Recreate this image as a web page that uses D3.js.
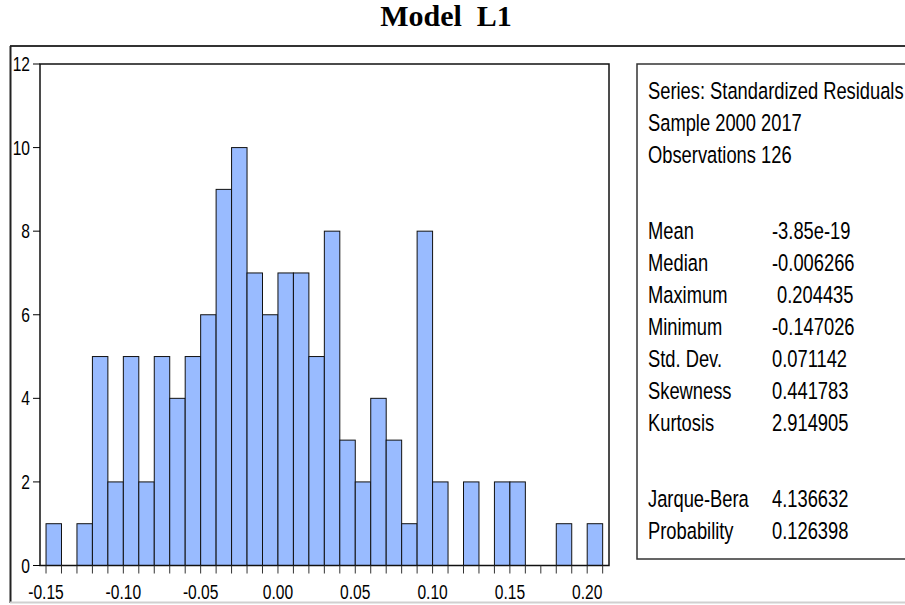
<!DOCTYPE html>
<html>
<head>
<meta charset="utf-8">
<script src="https://cdn.jsdelivr.net/npm/d3@7"></script>
<style>
  body { margin: 0; background: #fff; }
  text { font-family: "Liberation Sans", Arial, sans-serif; fill: #000; }
</style>
</head>
<body>
<svg width="905" height="605"></svg>
<script>
// histogram of residuals, bin width 0.01
const binStarts = [-0.15, -0.14, -0.13, -0.12, -0.11, -0.10, -0.09, -0.08, -0.07, -0.06,
                   -0.05, -0.04, -0.03, -0.02, -0.01, 0.00, 0.01, 0.02, 0.03, 0.04,
                   0.05, 0.06, 0.07, 0.08, 0.09, 0.10, 0.11, 0.12, 0.13, 0.14,
                   0.15, 0.16, 0.17, 0.18, 0.19, 0.20];
const counts = [1, 0, 1, 5, 2, 5, 2, 5, 4, 5,
                6, 9, 10, 7, 6, 7, 7, 5, 8, 3,
                2, 4, 3, 1, 8, 2, 0, 2, 0, 2,
                2, 0, 0, 1, 0, 1];
const binWidth = 0.01;

const yTicks = [0, 2, 4, 6, 8, 10, 12];
const xLabels = [-0.15, -0.10, -0.05, 0.00, 0.05, 0.10, 0.15, 0.20];

const statLabels = ['Series: Standardized Residuals', 'Sample 2000 2017', 'Observations 126', '',
                    'Mean', 'Median', 'Maximum', 'Minimum', 'Std. Dev.', 'Skewness', 'Kurtosis', '',
                    'Jarque-Bera', 'Probability'];
const statValues = ['', '', '', '',
                    '-3.85e-19', '-0.006266', ' 0.204435', '-0.147026', '0.071142', '0.441783', '2.914905', '',
                    '4.136632', '0.126398'];

const title = 'Model  L1';

let svg = d3.select('svg');

let plotLeft = 40, plotRight = 609, plotTop = 64, plotBottom = 565.5;

let x = d3.scaleLinear()
          .domain([-0.1539, 0.2141])
          .range([plotLeft, plotRight]);

let y = d3.scaleLinear()
          .domain([0, 12])
          .range([plotBottom, plotTop]);

// no narrow face installed, so squeeze Liberation Sans instead
function squeeze(px, py, k) {
  return 'translate(' + px + ',' + py + ')scale(' + k + ',1)';
}

// outer frame
svg.append('line')
  .attr('x1', 10).attr('x2', 905).attr('y1', 46).attr('y2', 46)
  .attr('stroke', '#333').attr('stroke-width', 2);
svg.append('line')
  .attr('x1', 10.5).attr('x2', 10.5).attr('y1', 46).attr('y2', 603)
  .attr('stroke', '#222').attr('stroke-width', 2);
svg.append('line')
  .attr('x1', 10).attr('x2', 905).attr('y1', 602.5).attr('y2', 602.5)
  .attr('stroke', '#d0d0d0').attr('stroke-width', 2);

// title
svg.append('text')
  .attr('x', 446).attr('y', 26)
  .attr('text-anchor', 'middle')
  .style('white-space', 'pre')
  .style('font-family', '"Liberation Serif", "Times New Roman", serif')
  .style('font-weight', 'bold')
  .style('font-size', '30px')
  .text(title);

// bars
svg.append('g')
  .selectAll('rect')
  .data(binStarts.map((b, i) => ({ b: b, n: counts[i] })).filter(d => d.n > 0))
  .enter().append('rect')
  .attr('x', d => x(d.b))
  .attr('y', d => y(d.n))
  .attr('width', d => x(d.b + binWidth) - x(d.b))
  .attr('height', d => y(0) - y(d.n))
  .attr('fill', '#99bbff')
  .attr('stroke', '#111')
  .attr('stroke-width', 1);

// plot frame
svg.append('rect')
  .attr('x', plotLeft).attr('y', plotTop)
  .attr('width', plotRight - plotLeft).attr('height', plotBottom - plotTop)
  .attr('fill', 'none')
  .attr('stroke', '#111')
  .attr('stroke-width', 1.5);

// y axis
let yAxis = svg.append('g');
let yTick = yAxis.selectAll('g')
  .data(yTicks)
  .enter().append('g')
  .attr('transform', d => 'translate(0,' + y(d) + ')');
yTick.append('line')
  .attr('x1', plotLeft - 7).attr('x2', plotLeft)
  .attr('stroke', '#000');
yTick.append('text')
  .attr('transform', squeeze(plotLeft - 10, 0, 0.8))
  .attr('dy', '0.36em')
  .attr('text-anchor', 'end')
  .style('font-size', '19.5px')
  .text(d => d);

// x axis: minor ticks every bin edge, labels every 0.05
let xAxis = svg.append('g');
xAxis.selectAll('line')
  .data(binStarts.concat([0.21]))
  .enter().append('line')
  .attr('x1', d => x(d)).attr('x2', d => x(d))
  .attr('y1', plotBottom).attr('y2', plotBottom + 8)
  .attr('stroke', '#333');
xAxis.selectAll('text')
  .data(xLabels)
  .enter().append('text')
  .attr('transform', d => squeeze(x(d), 599, 0.8))
  .attr('text-anchor', 'middle')
  .style('font-size', '19.5px')
  .text(d => d.toFixed(2));

// stats box
svg.append('rect')
  .attr('x', 637).attr('y', 64)
  .attr('width', 300).attr('height', 495)
  .attr('fill', 'none')
  .attr('stroke', '#333')
  .attr('stroke-width', 1.5);

let rowY = [];
let yy = 99;
statLabels.forEach(function(d) {
  if (d === '') { yy += 44; return rowY.push(null); }
  rowY.push(yy);
  yy += 32;
});

let stats = svg.append('g')
  .selectAll('g')
  .data(statLabels.map((d, i) => ({ label: d, value: statValues[i], y: rowY[i] })).filter(d => d.label !== ''))
  .enter().append('g');
stats.append('text')
  .attr('transform', d => squeeze(648, d.y, 0.78))
  .style('font-size', '23.5px')
  .text(d => d.label);
stats.append('text')
  .attr('transform', d => squeeze(772, d.y, 0.78))
  .style('font-size', '23.5px')
  .style('white-space', 'pre')
  .text(d => d.value);
</script>
</body>
</html>
